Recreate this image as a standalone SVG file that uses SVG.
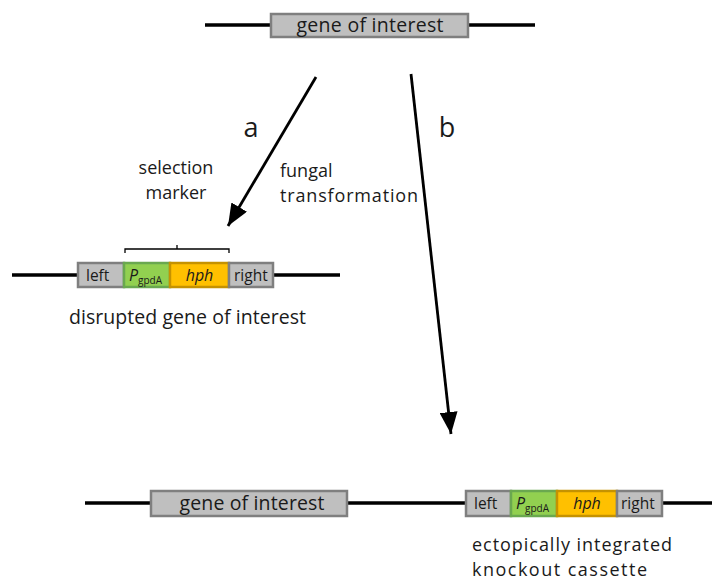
<svg xmlns="http://www.w3.org/2000/svg" width="712" height="581" viewBox="0 0 712 581">
<style>
text{font-family:"Open Sans","Liberation Sans",Arial,sans-serif;fill:#1a1a1a}
.dna{stroke:#000;stroke-width:3.5;fill:none}
.gray{fill:#bfbfbf;stroke:#7f7f7f;stroke-width:2.5}
.green{fill:#92d050;stroke:#6aa84f;stroke-width:2.5}
.orange{fill:#ffc000;stroke:#c59200;stroke-width:2.5}
.lbl{font-size:19.5px}
.ml{font-size:18px}
.gene{font-size:19.5px}
.box{font-size:15.5px}
.it{font-size:16px;font-style:italic}
.sub{font-size:10px;font-style:normal}
.conn{stroke:#000;stroke-width:2.8;fill:none}
</style>
<defs>
<marker id="arrow" viewBox="0 0 22 18" refX="22" refY="9" markerWidth="22" markerHeight="18" markerUnits="userSpaceOnUse" orient="auto">
<path d="M0,0 L22,9 L0,18 z" fill="#000"/>
</marker>
</defs>

<g id="top-gene">
<line class="dna" x1="205" y1="25" x2="535" y2="25"/>
<rect class="gray" x="271" y="14" width="197" height="23"/>
<text class="gene" x="370" y="32" text-anchor="middle" textLength="147">gene of interest</text>
</g>

<g id="connectors">
<line class="conn" x1="316" y1="77" x2="228" y2="226" marker-end="url(#arrow)"/>
<line class="conn" x1="411" y1="74" x2="451" y2="434" marker-end="url(#arrow)"/>
</g>

<g id="labels">
<text x="251" y="137" font-size="27" text-anchor="middle">a</text>
<text x="447" y="137" font-size="27" text-anchor="middle">b</text>
<text class="ml" x="280" y="177">fungal</text>
<text class="ml" x="280" y="202" textLength="138">transformation</text>
</g>

<g id="selection-marker">
<text class="ml" x="176" y="174" text-anchor="middle">selection</text>
<text class="ml" x="176" y="199" text-anchor="middle">marker</text>
<path d="M125,253 V249 H177 V245 M177,249 H229 V253" fill="none" stroke="#000" stroke-width="1.3"/>
</g>

<g id="disrupted">
<line class="dna" x1="12" y1="275" x2="340" y2="275"/>
<rect class="gray" x="78" y="263" width="46" height="24"/>
<rect class="green" x="124" y="263" width="46" height="24"/>
<rect class="orange" x="170" y="263" width="59" height="24"/>
<rect class="gray" x="229" y="263" width="44" height="24"/>
<text class="box" x="86" y="281">left</text>
<text class="it" x="129" y="281">P<tspan class="sub" dy="3">gpdA</tspan></text>
<text class="it" x="199.5" y="281" text-anchor="middle">hph</text>
<text class="box" x="234" y="281">right</text>
<text class="lbl" x="187.5" y="324" text-anchor="middle" textLength="237">disrupted gene of interest</text>
</g>

<g id="bottom-genome">
<line class="dna" x1="85" y1="503" x2="712" y2="503"/>
<rect class="gray" x="151" y="491" width="196" height="25"/>
<text class="gene" x="252" y="510" text-anchor="middle" textLength="145">gene of interest</text>
</g>

<g id="ectopic-cassette">
<rect class="gray" x="466" y="491" width="45" height="25"/>
<rect class="green" x="511" y="491" width="46" height="25"/>
<rect class="orange" x="557" y="491" width="60" height="25"/>
<rect class="gray" x="617" y="491" width="45" height="25"/>
<text class="box" x="474" y="509">left</text>
<text class="it" x="516" y="509">P<tspan class="sub" dy="3">gpdA</tspan></text>
<text class="it" x="587" y="509" text-anchor="middle">hph</text>
<text class="box" x="621" y="509">right</text>
<text class="ml" x="472" y="551" textLength="200">ectopically integrated</text>
<text class="ml" x="472" y="576" textLength="175">knockout cassette</text>
</g>
</svg>
